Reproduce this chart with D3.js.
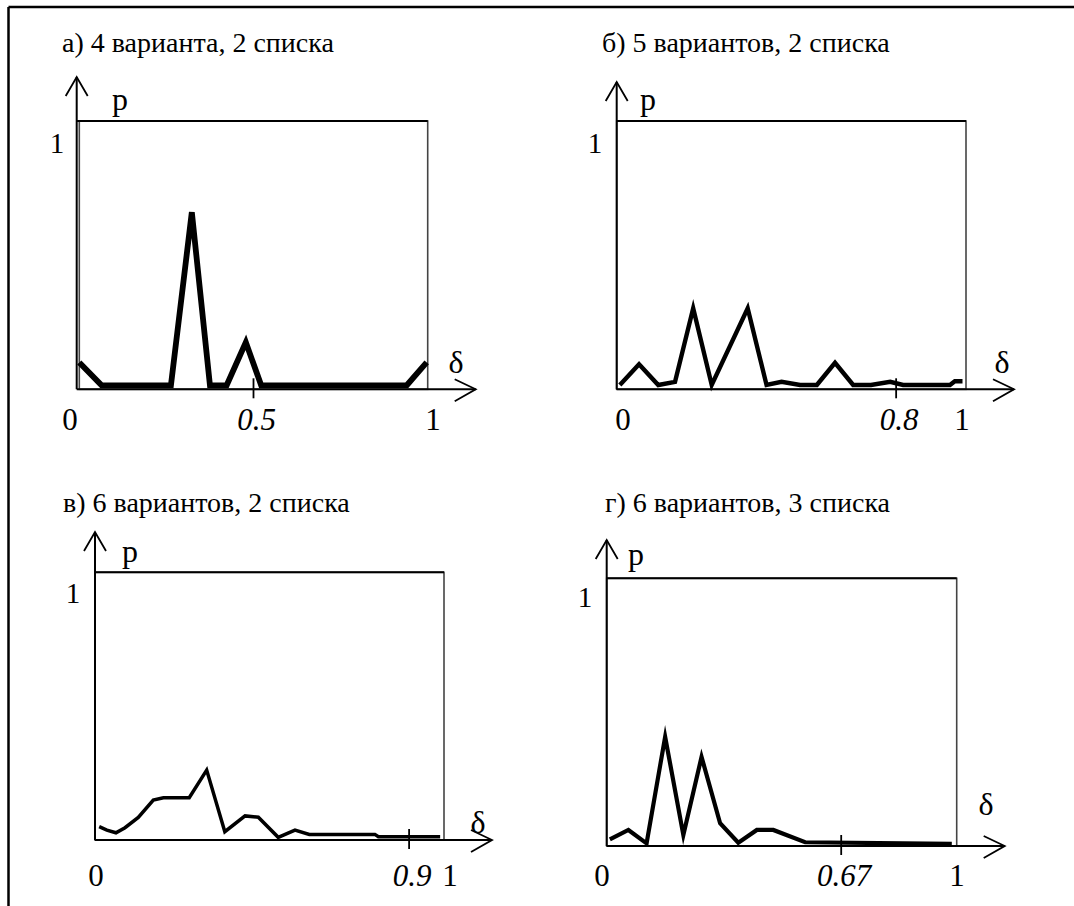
<!DOCTYPE html>
<html>
<head>
<meta charset="utf-8">
<script src="https://cdn.jsdelivr.net/npm/d3@7"></script>
<style>
  html, body { margin: 0; padding: 0; background: #fff; }
  svg { display: block; }
</style>
</head>
<body>
<svg id="chart" width="1074" height="906"></svg>
<script>
// ---------- data ----------
const titles = ["а) 4 варианта, 2 списка", "б) 5 вариантов, 2 списка", "в) 6 вариантов, 2 списка", "г) 6 вариантов, 3 списка"];
const tickValues = [0.5, 0.8, 0.9, 0.67];
const tickLabels = ["0.5", "0.8", "0.9", "0.67"];

const deltaA = [0.0, 0.064, 0.263, 0.323, 0.375, 0.423, 0.478, 0.522, 0.94, 0.997];
const pA     = [0.10, 0.015, 0.015, 0.66, 0.015, 0.015, 0.175, 0.015, 0.015, 0.10];

const deltaB = [0.009, 0.064, 0.119, 0.167, 0.219, 0.272, 0.375, 0.429, 0.472, 0.525, 0.573, 0.625, 0.677, 0.728, 0.783, 0.82, 0.954, 0.968, 0.99];
const pB     = [0.016, 0.093, 0.016, 0.028, 0.302, 0.016, 0.302, 0.016, 0.028, 0.016, 0.016, 0.099, 0.016, 0.016, 0.028, 0.016, 0.016, 0.03, 0.03];

const deltaC = [0.012, 0.034, 0.06, 0.086, 0.124, 0.167, 0.196, 0.27, 0.32, 0.372, 0.43, 0.468, 0.525, 0.573, 0.614, 0.802, 0.812, 0.989];
const pC     = [0.05, 0.037, 0.027, 0.046, 0.084, 0.149, 0.158, 0.158, 0.261, 0.031, 0.09, 0.085, 0.01, 0.037, 0.021, 0.021, 0.012, 0.012];

const deltaD = [0.009, 0.062, 0.114, 0.167, 0.219, 0.271, 0.324, 0.376, 0.429, 0.476, 0.567, 0.986];
const pD     = [0.025, 0.06, 0.01, 0.408, 0.041, 0.333, 0.085, 0.012, 0.06, 0.06, 0.014, 0.008];

const seriesDelta = [deltaA, deltaB, deltaC, deltaD];
const seriesP = [pA, pB, pC, pD];

// ---------- layout (positions / styles) ----------
const FONT = '"Liberation Serif"';
const layout = [
  {x0:79.3, x1:427.7, yTop:121, yBot:389.3, axisX:76.7, tipY:77, titleX:62, titleY:52, pX:120, pY:110, oneX:57, oneY:153, dX:456, dY:373, zeroX:70, oneLX:433, lblY:430, sw:5.8},
  {x0:616.7, x1:966, yTop:121, yBot:389.3, axisX:616.7, tipY:82, titleX:602, titleY:52, pX:648, pY:110, oneX:595, oneY:153, dX:1002, dY:373, zeroX:623, oneLX:962, lblY:430, sw:4.4},
  {x0:95, x1:444, yTop:572.3, yBot:840, axisX:95, tipY:532, titleX:63, titleY:512, pX:130, pY:562, oneX:73, oneY:603, dX:478, dY:833, zeroX:96, oneLX:450, lblY:886, sw:3.5},
  {x0:606.7, x1:956.7, yTop:578.3, yBot:846, axisX:606.7, tipY:540, titleX:605, titleY:512, pX:636, pY:565, oneX:585, oneY:607, dX:986, dY:815, zeroX:602, oneLX:957, lblY:886, sw:4.2}
];

const svg = d3.select("#chart");

// outer border (top and left)
svg.append("line").attr("x1", 8.5).attr("y1", 7).attr("x2", 1074).attr("y2", 7)
  .attr("stroke", "#000").attr("stroke-width", 2.5);
svg.append("line").attr("x1", 8.5).attr("y1", 7).attr("x2", 8.5).attr("y2", 906)
  .attr("stroke", "#000").attr("stroke-width", 2.5);

function label(g, xPos, yPos, size, txt, italic, anchor) {
  return g.append("text").attr("x", xPos).attr("y", yPos)
    .attr("text-anchor", anchor || "middle")
    .style("font-family", FONT)
    .style("font-size", size + "px")
    .style("font-style", italic ? "italic" : "normal")
    .style("fill", "#000").text(txt);
}

layout.forEach((L, i) => {
  const g = svg.append("g");
  const x = d3.scaleLinear().domain([0, 1]).range([L.x0, L.x1]);
  const y = d3.scaleLinear().domain([0, 1]).range([L.yBot, L.yTop]);

  // title
  label(g, L.titleX, L.titleY, 28, titles[i], false, "start");

  // frame
  g.append("rect").attr("x", x(0)).attr("y", y(1))
    .attr("width", x(1) - x(0)).attr("height", y(0) - y(1))
    .attr("fill", "none").attr("stroke", "#444").attr("stroke-width", 1.6);
  g.append("line").attr("x1", L.axisX).attr("x2", x(1)).attr("y1", y(1)).attr("y2", y(1))
    .attr("stroke", "#000").attr("stroke-width", 2);

  // y axis with arrow
  g.append("line").attr("x1", L.axisX).attr("x2", L.axisX).attr("y1", L.tipY).attr("y2", y(0))
    .attr("stroke", "#000").attr("stroke-width", 2);
  g.append("polyline")
    .attr("points", `${L.axisX - 11},${L.tipY + 19} ${L.axisX},${L.tipY} ${L.axisX + 11},${L.tipY + 19}`)
    .attr("fill", "none").attr("stroke", "#000").attr("stroke-width", 1.8);

  // x axis with arrow
  const tipX = x(1) + 48;
  g.append("line").attr("x1", L.axisX).attr("x2", tipX).attr("y1", y(0)).attr("y2", y(0))
    .attr("stroke", "#000").attr("stroke-width", 2);
  g.append("polyline")
    .attr("points", `${tipX - 21},${y(0) - 10} ${tipX},${y(0)} ${tipX - 21},${y(0) + 12}`)
    .attr("fill", "none").attr("stroke", "#000").attr("stroke-width", 1.8);

  // tick mark
  g.append("line").attr("x1", x(tickValues[i])).attr("x2", x(tickValues[i]))
    .attr("y1", y(0) - 11).attr("y2", y(0) + 9)
    .attr("stroke", "#000").attr("stroke-width", 1.8);

  // curve
  const pts = seriesDelta[i].map((d, k) => [d, seriesP[i][k]]);
  g.append("path").datum(pts)
    .attr("d", d3.line().x(d => x(d[0])).y(d => y(d[1])))
    .attr("fill", "none").attr("stroke", "#000").attr("stroke-width", L.sw)
    .attr("stroke-linejoin", "miter").attr("stroke-miterlimit", 6);

  // labels
  label(g, L.pX, L.pY, 32, "p");
  label(g, L.oneX, L.oneY, 29, "1");
  label(g, L.dX, L.dY, 32, "δ");
  label(g, L.zeroX, L.lblY, 31, "0");
  label(g, x(tickValues[i]) + 3, L.lblY, 31, tickLabels[i], true);
  label(g, L.oneLX, L.lblY, 31, "1");
});
</script>
</body>
</html>
